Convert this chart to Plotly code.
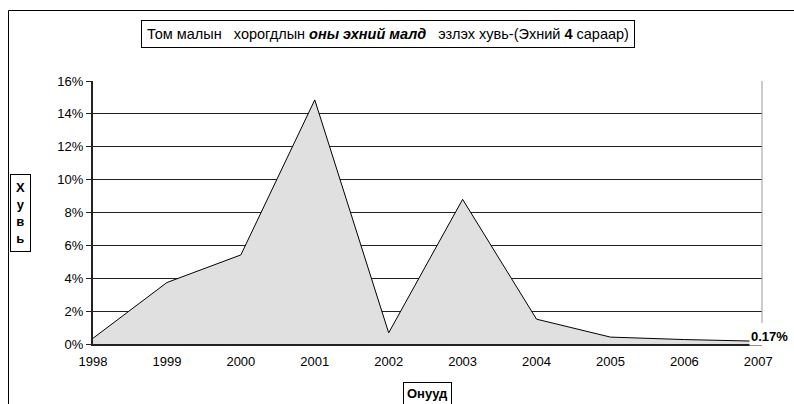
import plotly.graph_objects as go

years = ["1998", "1999", "2000", "2001", "2002", "2003", "2004", "2005", "2006", "2007"]
shares = [0.0035, 0.0374, 0.0542, 0.1485, 0.0068, 0.0880, 0.0151, 0.0042, 0.0027, 0.0017]
y_ticks = [0, 0.02, 0.04, 0.06, 0.08, 0.10, 0.12, 0.14, 0.16]
last_label = "0.17%"

W, H = 794, 404
L, R, T, B = 93, 32, 81, 60
pw, ph = W - L - R, H - T - B

def px(x):
    return (x - L) / pw

def py(y):
    return (H - B - y) / ph

xs = list(range(len(years)))
font = "Liberation Sans, Arial, sans-serif"

fig = go.Figure()
fig.add_trace(go.Scatter(
    x=xs, y=shares, mode="lines", fill="tozeroy",
    line=dict(color="black", width=1), fillcolor="#e0e0e0",
    hoverinfo="skip", showlegend=False,
))

fig.update_layout(
    width=W, height=H,
    margin=dict(l=L, r=R, t=T, b=B),
    paper_bgcolor="white", plot_bgcolor="white",
    font=dict(family=font, size=13, color="black"),
    xaxis=dict(
        range=[0, 9.05], tickvals=xs, ticktext=years, showgrid=False,
        showline=True, linecolor="#222", linewidth=2, ticks="outside",
        ticklen=4, tickcolor="rgba(0,0,0,0)", zeroline=False,
        fixedrange=True,
    ),
    yaxis=dict(
        range=[0, 0.16], tickvals=y_ticks, tickformat=".0%",
        showgrid=True, gridcolor="#222", gridwidth=1,
        showline=True, linecolor="#222", linewidth=2,
        ticks="outside", ticklen=5, tickcolor="#222", zeroline=False,
        fixedrange=True,
    ),
    shapes=[
        dict(type="path", xref="paper", yref="paper",
             path=f"M {px(8.5)} {py(404)} L {px(8.5)} {py(10.5)} L {px(794)} {py(10.5)}",
             line=dict(color="black", width=1)),
        dict(type="line", xref="paper", yref="paper",
             x0=1, x1=1, y0=py(323), y1=1,
             line=dict(color="#999", width=1)),
    ],
    annotations=[
        dict(xref="paper", yref="paper", x=px(388), y=py(33.5),
             text="Том малын&nbsp;&nbsp; хорогдлын <b><i>оны эхний малд</i></b>&nbsp;&nbsp; эзлэх хувь-(Эхний <b>4</b> сараар)",
             showarrow=False, font=dict(size=14.5), bordercolor="black", borderwidth=1,
             bgcolor="white", borderpad=5, xanchor="center", yanchor="middle"),
        dict(xref="paper", yref="paper", x=px(20.5), y=py(212.5),
             text="<b>Х<br>у<br>в<br>ь</b>", showarrow=False, font=dict(size=13),
             bordercolor="black", borderwidth=1, bgcolor="white", borderpad=5,
             xanchor="center", yanchor="middle"),
        dict(xref="paper", yref="paper", x=px(427), y=py(393),
             text="<b>Онууд</b>", showarrow=False, font=dict(size=13),
             bordercolor="black", borderwidth=1, bgcolor="white", borderpad=3,
             xanchor="center", yanchor="middle"),
        dict(x=9, y=shares[-1], xref="x", yref="y", text=f"<b>{last_label}</b>",
             showarrow=False, xanchor="left", yanchor="middle", xshift=-9, yshift=5,
             font=dict(size=13), bgcolor="white"),
    ],
)

fig.write_html("out.html", config={"displayModeBar": False},
               post_script="document.body.style.margin='0';document.body.style.padding='0';")
